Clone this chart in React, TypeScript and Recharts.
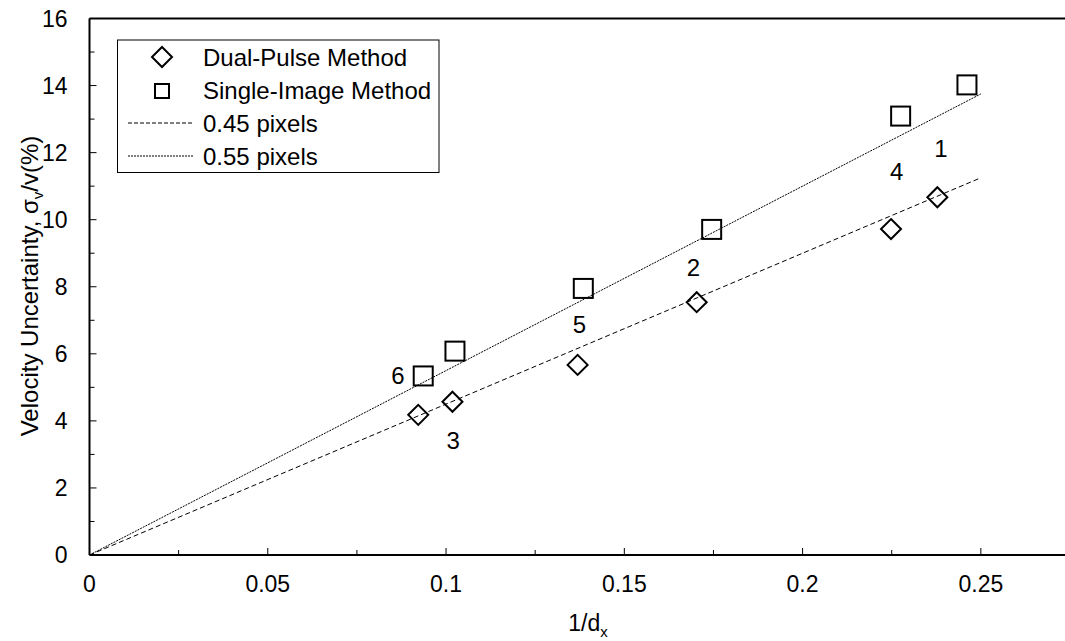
import { ScatterChart, Scatter, XAxis, YAxis, ReferenceLine } from 'recharts';

// Dual-pulse method (diamonds)
const dualX = [0.0922, 0.1018, 0.1369, 0.1703, 0.2248, 0.2378];
const dualY = [4.18, 4.57, 5.67, 7.54, 9.72, 10.67];

// Single-image method (squares)
const singleX = [0.0936, 0.1025, 0.1385, 0.1745, 0.2275, 0.2461];
const singleY = [5.34, 6.08, 7.95, 9.71, 13.09, 14.02];

// fitted lines through the origin
const fitX = [0, 0.25];
const fit045 = [0, 11.25];
const fit055 = [0, 13.75];

// case numbers written next to the points
const noteText = ['1', '2', '3', '4', '5', '6'];
const noteX = [0.2388, 0.1694, 0.102, 0.2264, 0.1374, 0.0865];
const noteY = [12.13, 8.58, 3.4, 11.43, 6.86, 5.34];

const xTicks = [0, 0.025, 0.05, 0.075, 0.1, 0.125, 0.15, 0.175, 0.2, 0.225, 0.25];
const yTicks = [0, 1, 2, 3, 4, 5, 6, 7, 8, 9, 10, 11, 12, 13, 14, 15, 16];

const FONT = "Arial, 'Liberation Sans', sans-serif";

const zip = (xs: number[], ys: number[]) => xs.map((x, i) => ({ x, y: ys[i] }));

const dualData = zip(dualX, dualY);
const singleData = zip(singleX, singleY);
const line045 = zip(fitX, fit045);
const line055 = zip(fitX, fit055);
const noteData = noteX.map((x, i) => ({ x, y: noteY[i], text: noteText[i] }));

const Diamond = ({ cx, cy }: any) => (
  <path
    d={`M${cx} ${cy - 10}L${cx + 10} ${cy}L${cx} ${cy + 10}L${cx - 10} ${cy}Z`}
    fill="none"
    stroke="#000"
    strokeWidth={2}
  />
);

const Square = ({ cx, cy }: any) => (
  <rect x={cx - 9.5} y={cy - 9.5} width={19} height={19} fill="none" stroke="#000" strokeWidth={2} />
);

const Note = ({ cx, cy, payload }: any) => (
  <text x={cx} y={cy} textAnchor="middle" dominantBaseline="central" fontSize={24} fontFamily={FONT} fill="#000">
    {payload.text}
  </text>
);

const NoShape = () => <g />;

const XTick = ({ x, y, payload }: any) => {
  const v = payload.value;
  const major = Math.abs(v * 20 - Math.round(v * 20)) < 1e-6;
  return (
    <g>
      <line x1={x} x2={x} y1={y} y2={y - (major ? 7 : 5)} stroke="#000" strokeWidth={1} />
      {major && (
        <text x={x} y={y + 29} textAnchor="middle" dominantBaseline="central" fontSize={23} fontFamily={FONT} fill="#000">
          {String(Number(v.toFixed(3)))}
        </text>
      )}
    </g>
  );
};

const YTick = ({ x, y, payload }: any) => {
  const v = payload.value;
  const major = v % 2 === 0;
  return (
    <g>
      <line x1={x} x2={x + (major ? 7 : 5)} y1={y} y2={y} stroke="#000" strokeWidth={1} />
      {major && (
        <text x={x - 22} y={y} textAnchor="end" dominantBaseline="central" fontSize={23} fontFamily={FONT} fill="#000">
          {v}
        </text>
      )}
    </g>
  );
};

const Legend = () => (
  <svg width={1065} height={641} style={{ position: 'absolute', left: 0, top: 0, pointerEvents: 'none' }}>
    <rect x={117.5} y={40} width={321.5} height={132.5} fill="#fff" stroke="#000" strokeWidth={1} />
    <Diamond cx={162} cy={57} />
    <rect x={155} y={84} width={14} height={14} fill="none" stroke="#000" strokeWidth={2} />
    <line x1={128} x2={193} y1={123} y2={123} stroke="#000" strokeDasharray="4 2" />
    <line x1={128} x2={193} y1={156} y2={156} stroke="#000" strokeDasharray="2 1" />
    {['Dual-Pulse Method', 'Single-Image Method', '0.45 pixels', '0.55 pixels'].map((t, i) => (
      <text key={t} x={203} y={[57, 90, 123, 156][i]} dominantBaseline="central" fontSize={24} fontFamily={FONT} fill="#000">
        {t}
      </text>
    ))}
  </svg>
);

export default function App() {
  return (
    <div style={{ position: 'absolute', left: 0, top: 0, width: 1065, height: 641, background: '#fff' }}>
      <ScatterChart width={1065} height={641} margin={{ top: 18.5, right: 0, bottom: 46, left: 29.5 }}>
        <XAxis
          type="number"
          dataKey="x"
          domain={[0, 0.2736]}
          ticks={xTicks}
          interval={0}
          height={40}
          tickSize={0}
          tickMargin={0}
          tickLine={false}
          tick={<XTick />}
          axisLine={{ stroke: '#000', strokeWidth: 2 }}
          allowDataOverflow
        />
        <YAxis
          type="number"
          dataKey="y"
          domain={[0, 16]}
          ticks={yTicks}
          interval={0}
          width={60}
          tickSize={0}
          tickMargin={0}
          tickLine={false}
          tick={<YTick />}
          axisLine={{ stroke: '#000', strokeWidth: 2 }}
          allowDataOverflow
        />
        <ReferenceLine y={16} stroke="#000" strokeWidth={2} />
        <Scatter data={line045} line={{ stroke: '#000', strokeWidth: 1, strokeDasharray: '5 3' }} shape={<NoShape />} isAnimationActive={false} />
        <Scatter data={line055} line={{ stroke: '#000', strokeWidth: 1, strokeDasharray: '2 1' }} shape={<NoShape />} isAnimationActive={false} />
        <Scatter data={dualData} shape={<Diamond />} isAnimationActive={false} />
        <Scatter data={singleData} shape={<Square />} isAnimationActive={false} />
        <Scatter data={noteData} shape={<Note />} isAnimationActive={false} />
      </ScatterChart>
      <Legend />
      <div
        style={{
          position: 'absolute',
          left: 31,
          top: 286,
          transform: 'translate(-50%, -50%) rotate(-90deg)',
          whiteSpace: 'nowrap',
          fontFamily: FONT,
          fontSize: 24,
        }}
      >
        Velocity Uncertainty, σ<sub style={{ fontSize: 15 }}>v</sub>/v(%)
      </div>
      <div
        style={{
          position: 'absolute',
          left: 588,
          top: 625,
          transform: 'translate(-50%, -50%)',
          whiteSpace: 'nowrap',
          fontFamily: FONT,
          fontSize: 23,
        }}
      >
        1/d<sub style={{ fontSize: 15 }}>x</sub>
      </div>
    </div>
  );
}
